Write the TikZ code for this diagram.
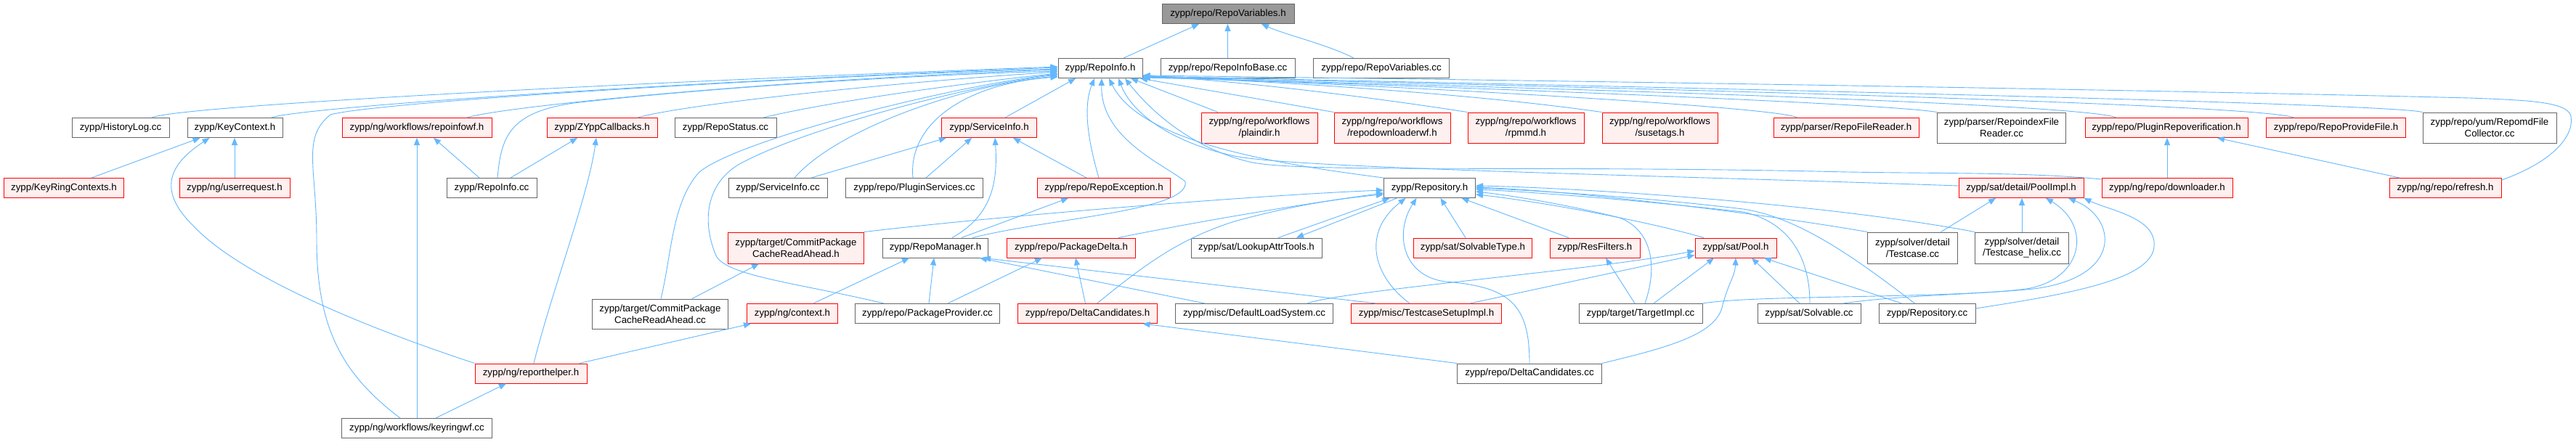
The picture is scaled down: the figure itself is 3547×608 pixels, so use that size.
\documentclass[tikz,border=0pt]{standalone}
\usepackage{fontspec}
\setmainfont{Liberation Sans}
\usetikzlibrary{arrows.meta}
\definecolor{edgeblue}{HTML}{63B8FF}
\definecolor{borderg}{HTML}{666666}
\definecolor{pinkfill}{HTML}{FFF0F0}
\definecolor{rootfill}{HTML}{999999}
\tikzset{
  nb/.style={draw=borderg, fill=white, line width=1pt, inner sep=0pt, minimum height=27pt, align=center, font=\fontsize{13.3}{15.6}\selectfont},
  nr/.style={nb, draw=red, fill=pinkfill},
  nroot/.style={nb, fill=rootfill},
  e/.style={draw=edgeblue, line width=0.9pt, -{Triangle[length=10pt,width=8pt]}},
}
\begin{document}
\begin{tikzpicture}[x=1pt,y=-1pt]
\fill[white] (0,0) rectangle (3547,608);
\useasboundingbox (0,0) rectangle (3547,608);
% row 1-2
\node[nroot, minimum width=182pt] (RV) at (1691,19) {zypp/repo/RepoVariables.h};
\node[nb, minimum width=116pt] (RI) at (1515,94) {zypp/RepoInfo.h};
\node[nb, minimum width=185pt] (RIB) at (1690.5,94) {zypp/repo/RepoInfoBase.cc};
\node[nb, minimum width=187pt] (RVcc) at (1902,94) {zypp/repo/RepoVariables.cc};
% row 3
\node[nb, minimum width=134pt] (HL) at (166,176) {zypp/HistoryLog.cc};
\node[nb, minimum width=131pt] (KC) at (323.5,176) {zypp/KeyContext.h};
\node[nr, minimum width=206pt] (RIWF) at (574,176) {zypp/ng/workflows/repoinfowf.h};
\node[nr, minimum width=152pt] (ZYC) at (829,176) {zypp/ZYppCallbacks.h};
\node[nb, minimum width=140pt] (RS) at (999,176) {zypp/RepoStatus.cc};
\node[nr, minimum width=131pt] (SIh) at (1362,176) {zypp/ServiceInfo.h};
\node[nr, minimum width=160pt, minimum height=42pt] (PD) at (1734,176) {zypp/ng/repo/workflows\\/plaindir.h};
\node[nr, minimum width=160pt, minimum height=42pt] (RDWF) at (1917,176) {zypp/ng/repo/workflows\\/repodownloaderwf.h};
\node[nr, minimum width=160pt, minimum height=42pt] (RPMMD) at (2101,176) {zypp/ng/repo/workflows\\/rpmmd.h};
\node[nr, minimum width=159pt, minimum height=42pt] (SUSE) at (2285.5,176) {zypp/ng/repo/workflows\\/susetags.h};
\node[nr, minimum width=200pt] (RFR) at (2542,176) {zypp/parser/RepoFileReader.h};
\node[nb, minimum width=177pt, minimum height=42pt] (RIFR) at (2756,176) {zypp/parser/RepoindexFile\\Reader.cc};
\node[nr, minimum width=224pt] (PRV) at (2983,176) {zypp/repo/PluginRepoverification.h};
\node[nr, minimum width=192pt] (RPF) at (3216.6,176) {zypp/repo/RepoProvideFile.h};
\node[nb, minimum width=184pt, minimum height=42pt] (RMFC) at (3428,176) {zypp/repo/yum/RepomdFile\\Collector.cc};
% row 4
\node[nr, minimum width=165pt] (KRC) at (88,259) {zypp/KeyRingContexts.h};
\node[nr, minimum width=152pt] (UR) at (323,259) {zypp/ng/userrequest.h};
\node[nb, minimum width=124pt] (RIcc) at (677,259) {zypp/RepoInfo.cc};
\node[nb, minimum width=136pt] (SIcc) at (1071,259) {zypp/ServiceInfo.cc};
\node[nb, minimum width=189pt] (PS) at (1259,259) {zypp/repo/PluginServices.cc};
\node[nr, minimum width=183pt] (RE) at (1520,259) {zypp/repo/RepoException.h};
\node[nb, minimum width=126pt] (RH) at (1968.5,259) {zypp/Repository.h};
\node[nr, minimum width=172pt] (PI) at (2783,259) {zypp/sat/detail/PoolImpl.h};
\node[nr, minimum width=180pt] (DL) at (2984,259) {zypp/ng/repo/downloader.h};
\node[nr, minimum width=154pt] (RFsh) at (3367,259) {zypp/ng/repo/refresh.h};
% row 5
\node[nr, minimum width=187pt, minimum height=43pt] (CPh) at (1096,341.5) {zypp/target/CommitPackage\\CacheReadAhead.h};
\node[nb, minimum width=145pt] (RM) at (1288,341.5) {zypp/RepoManager.h};
\node[nr, minimum width=177pt] (PDl) at (1475,341.5) {zypp/repo/PackageDelta.h};
\node[nb, minimum width=180pt] (LAT) at (1730,341.5) {zypp/sat/LookupAttrTools.h};
\node[nr, minimum width=163pt] (ST) at (2028,341.5) {zypp/sat/SolvableType.h};
\node[nr, minimum width=124pt] (RFil) at (2196,341.5) {zypp/ResFilters.h};
\node[nr, minimum width=112pt] (Pool) at (2390,341.5) {zypp/sat/Pool.h};
\node[nb, minimum width=124pt, minimum height=43pt] (TC) at (2633.5,341.5) {zypp/solver/detail\\/Testcase.cc};
\node[nb, minimum width=129pt, minimum height=43pt] (TCH) at (2784,341.5) {zypp/solver/detail\\/Testcase\_helix.cc};
% row 6
\node[nb, minimum width=187pt, minimum height=41pt] (CPcc) at (909,432.5) {zypp/target/CommitPackage\\CacheReadAhead.cc};
\node[nr, minimum width=125pt] (CTX) at (1091,432) {zypp/ng/context.h};
\node[nb, minimum width=199pt] (PP) at (1277,432) {zypp/repo/PackageProvider.cc};
\node[nr, minimum width=192pt] (DCh) at (1497.5,432) {zypp/repo/DeltaCandidates.h};
\node[nb, minimum width=217pt] (DLS) at (1727,432) {zypp/misc/DefaultLoadSystem.cc};
\node[nr, minimum width=207pt] (TSI) at (1964,432) {zypp/misc/TestcaseSetupImpl.h};
\node[nb, minimum width=170pt] (TI) at (2259,432) {zypp/target/TargetImpl.cc};
\node[nb, minimum width=142pt] (SV) at (2491,432) {zypp/sat/Solvable.cc};
\node[nb, minimum width=133pt] (RC) at (2653.5,432) {zypp/Repository.cc};
% row 7-8
\node[nr, minimum width=154pt] (RHp) at (731,514.5) {zypp/ng/reporthelper.h};
\node[nb, minimum width=199pt] (DCcc) at (2106,514.5) {zypp/repo/DeltaCandidates.cc};
\node[nb, minimum width=207pt] (KRWF) at (574,590) {zypp/ng/workflows/keyringwf.cc};

% edges to RepoVariables.h
\draw[e] ([xshift=32pt]RI.north) -- ([xshift=-40pt]RV.south);
\draw[e] (RIB.north) -- (RIB.north |- RV.south);
\draw[e] ([xshift=-38pt]RVcc.north) .. controls (1830,62) and (1770,48) .. ([xshift=46pt]RV.south);

% edges to RepoInfo.h from the left
\draw[e] ([xshift=43pt]HL.north) .. controls (250,145) and (900,112) .. ([yshift=2pt]RI.west);
\draw[e] ([xshift=50pt]KC.north) .. controls (420,147) and (950,112) .. ([yshift=1pt]RI.west);
\draw[e] ([xshift=-23pt]KRWF.north) .. controls (470,515) and (436,450) .. (436,330) .. controls (436,230) and (415,190) .. (455,158) .. controls (520,140) and (1100,105) .. ([yshift=-1pt]RI.west);
\draw[e] ([xshift=69pt]RIWF.north) .. controls (700,145) and (1100,108) .. ([yshift=-2pt]RI.west);
\draw[e] ([xshift=8pt]RIcc.north) .. controls (690,190) and (700,155) .. (790,142) .. controls (1000,118) and (1300,102) .. ([yshift=-4pt]RI.west);
\draw[e] ([xshift=49pt]ZYC.north) .. controls (950,142) and (1250,112) .. ([yshift=-5pt]RI.west);
\draw[e] ([xshift=52pt]RS.north) .. controls (1150,138) and (1350,112) .. ([yshift=-7pt]RI.west);
\draw[e] ([xshift=1pt]CPcc.north) .. controls (925,350) and (925,280) .. (962,238) .. controls (1010,195) and (1300,120) .. ([yshift=-8pt]RI.west);
\draw[e] ([xshift=-60pt]PP.north) .. controls (1100,390) and (995,380) .. (985,350) .. controls (965,300) and (975,250) .. (1020,225) .. controls (1120,172) and (1350,115) .. ([yshift=-9pt]RI.west);
\draw[e] ([xshift=23pt]SIcc.north) .. controls (1150,180) and (1320,118) .. ([yshift=-11pt]RI.west);
\draw[e] ([xshift=-2pt]PS.north) .. controls (1250,170) and (1330,115) .. ([yshift=-12pt]RI.west);
% edges to RepoInfo.h from below
\draw[e] ([xshift=22pt]SIh.north) -- ([xshift=-34pt]RI.south);
\draw[e] ([xshift=-7pt]RE.north) .. controls (1500,200) and (1490,150) .. ([xshift=-8pt]RI.south);
\draw[e] ([xshift=51pt]RM.north) .. controls (1450,300) and (1640,290) .. (1632,250) .. controls (1600,225) and (1515,190) .. ([xshift=2pt]RI.south);
\draw[e] (RH.north west) .. controls (1750,225) and (1570,195) .. ([xshift=12pt]RI.south);
\draw[e] ([yshift=3pt]PI.west) .. controls (2300,242) and (1780,232) .. (1700,215) .. controls (1620,198) and (1560,160) .. ([xshift=25pt]RI.south);
\draw[e] ([yshift=12pt]DL.west) .. controls (2780,236) and (2650,240) .. (2500,236) .. controls (2100,228) and (1800,238) .. (1725,224) .. controls (1650,208) and (1590,160) .. ([xshift=34pt]RI.south);
\draw[e] ([xshift=-57pt]PD.north) -- ([xshift=42pt]RI.south);
\draw[e] (RDWF.north west) -- ([xshift=55pt]RI.south);
% edges to RepoInfo.h from the right
\draw[e] (RPMMD.north west) .. controls (1850,128) and (1680,110) .. ([yshift=-10pt]RI.east);
\draw[e] (SUSE.north west) .. controls (2000,125) and (1700,110) .. ([yshift=-11pt]RI.east);
\draw[e] ([xshift=-67pt]RFR.north) .. controls (2440,145) and (1800,112) .. ([yshift=-12pt]RI.east);
\draw[e] (RIFR.north west) .. controls (2580,140) and (1800,113) .. ([yshift=-12pt]RI.east);
\draw[e] ([xshift=-69pt]PRV.north) .. controls (2860,140) and (1900,115) .. ([yshift=-13pt]RI.east);
\draw[e] ([xshift=-58pt]RPF.north) .. controls (3100,140) and (1900,113) .. ([yshift=-12pt]RI.east);
\draw[e] (RMFC.north west) .. controls (3280,140) and (1900,112) .. ([yshift=-11pt]RI.east);
\draw[e] ([yshift=11pt]RFsh.east) .. controls (3510,225) and (3545,190) .. (3540,160) .. controls (3535,140) and (3480,138) .. (3400,135) .. controls (2800,120) and (1900,108) .. ([yshift=-10pt]RI.east);

% KeyContext.h, repoinfowf.h, ZYppCallbacks.h, reporthelper.h
\draw[e] ([xshift=38pt]KRC.north) -- ([xshift=-48pt]KC.south);
\draw[e] (UR.north) -- (UR.north |- KC.south);
\draw[e] (RHp.north west) .. controls (500,450) and (330,380) .. (265,310) .. controls (215,260) and (235,225) .. ([xshift=-35pt]KC.south);
\draw[e] (KRWF.north) -- (KRWF.north |- RIWF.south);
\draw[e] ([xshift=-17pt]RIcc.north) -- ([xshift=23pt]RIWF.south);
\draw[e] ([xshift=26pt]RIcc.north) -- ([xshift=-34pt]ZYC.south);
\draw[e] ([xshift=4pt]RHp.north) .. controls (760,400) and (810,270) .. ([xshift=-8pt]ZYC.south);
\draw[e] ([xshift=26pt]KRWF.north) -- ([xshift=-34pt]RHp.south);
\draw[e] ([xshift=67pt]RHp.north) -- ([xshift=-57pt]CTX.south);
\draw[e] ([xshift=29pt]CTX.north) -- ([xshift=-36pt]RM.south);

% ServiceInfo.h, RepoException.h
\draw[e] ([xshift=46pt]SIcc.north) -- ([xshift=-59pt]SIh.south);
\draw[e] ([xshift=16pt]PS.north) -- ([xshift=-24pt]SIh.south);
\draw[e] ([xshift=23pt]RM.north) .. controls (1360,300) and (1375,260) .. ([xshift=8pt]SIh.south);
\draw[e] ([xshift=-24pt]RE.north) -- ([xshift=33pt]SIh.south);
\draw[e] ([xshift=36pt]RM.north) -- ([xshift=-49pt]RE.south);

% CommitPackage, RepoManager, PackageDelta
\draw[e] ([xshift=44pt]CPcc.north) -- ([xshift=-51pt]CPh.south);
\draw[e] (CPh.north east) .. controls (1400,295) and (1750,268) .. ([yshift=-3pt]RH.west);
\draw[e] ([xshift=2pt]PP.north) -- ([xshift=-2pt]RM.south);
\draw[e] ([xshift=28pt]PP.north) -- ([xshift=-40pt]PDl.south);
\draw[e] ([xshift=-3pt]DCh.north) -- ([xshift=6pt]PDl.south);
\draw[e] ([xshift=13pt]DCh.north) .. controls (1570,370) and (1620,330) .. (1700,305) .. controls (1790,280) and (1860,272) .. ([yshift=-9pt]RH.west);
\draw[e] ([xshift=65pt]PDl.north) .. controls (1650,305) and (1800,280) .. ([yshift=-7pt]RH.west);
\draw[e] (DCcc.north west) -- ([xshift=76pt]DCh.south);
\draw[e] (DCcc.north east) .. controls (2300,478) and (2365,460) .. (2372,420) .. controls (2380,390) and (2389,380) .. (Pool.south);
\draw[e] (DCcc.north) .. controls (2106,420) and (2080,395) .. (1990,388) .. controls (1930,380) and (1920,320) .. ([xshift=-18pt]RH.south);
\draw[e] ([xshift=-68pt]DLS.north) -- ([xshift=61pt]RM.south);
\draw[e] ([xshift=-69pt]TSI.north) -- ([xshift=66pt]RM.south);
\draw[e] ([xshift=73pt]DLS.north) .. controls (1850,400) and (2200,372) .. ([yshift=-4pt]Pool.west);
\draw[e] ([xshift=60pt]TSI.north) -- ([yshift=-10pt]Pool.west);
\draw[e] ([xshift=-23pt]TSI.north) .. controls (1890,380) and (1875,320) .. ([xshift=-33pt]RH.south);

% Repository.h
\draw[e] ([xshift=30pt]LAT.north) -- ([xshift=-55pt]RH.south);
\draw[e] ([xshift=-45pt]RH.south) -- ([xshift=55pt]LAT.north);
\draw[e] ([xshift=-10pt]ST.north) -- ([xshift=15pt]RH.south);
\draw[e] ([xshift=-36pt]RFil.north) -- ([xshift=44pt]RH.south);
\draw[e] ([xshift=-44pt]Pool.north) .. controls (2250,300) and (2100,275) .. ([yshift=-9pt]RH.east);
\draw[e] ([xshift=6pt]TI.north) .. controls (2285,360) and (2270,315) .. (2230,300) .. controls (2150,280) and (2070,268) .. ([yshift=-5pt]RH.east);
\draw[e] ([xshift=1pt]SV.north) .. controls (2492,350) and (2460,305) .. (2400,292) .. controls (2250,275) and (2100,264) .. ([yshift=-2pt]RH.east);
\draw[e] ([xshift=-17pt]RC.north) .. controls (2560,360) and (2480,300) .. (2400,288) .. controls (2250,270) and (2100,262) .. (RH.east);
\draw[e] (TC.north west) .. controls (2400,290) and (2150,262) .. ([yshift=1pt]RH.east);
\draw[e] (TCH.north west) .. controls (2500,278) and (2150,258) .. ([yshift=3pt]RH.east);

% Pool.h, ResFilters.h
\draw[e] ([xshift=-8pt]TI.north) -- ([xshift=15pt]RFil.south);
\draw[e] ([xshift=18pt]TI.north) -- ([xshift=-30pt]Pool.south);
\draw[e] ([xshift=-13pt]SV.north) -- ([xshift=22pt]Pool.south);
\draw[e] ([xshift=-35pt]RC.north) -- ([xshift=39pt]Pool.south);

% PoolImpl.h
\draw[e] ([xshift=39pt]TC.north) -- ([xshift=-35pt]PI.south);
\draw[e] (TCH.north) -- (TCH.north |- PI.south);
\draw[e] (TI.north east) .. controls (2420,406) and (2660,412) .. (2800,398) .. controls (2925,382) and (2915,300) .. ([xshift=65pt]PI.south);
\draw[e] ([xshift=47pt]SV.north) .. controls (2620,406) and (2730,406) .. (2790,398) .. controls (2870,385) and (2880,310) .. ([xshift=34pt]PI.south);
\draw[e] ([yshift=7pt]RC.east) .. controls (2850,405) and (2962,385) .. (2966,340) .. controls (2970,300) and (2905,290) .. (PI.south east);

% PluginRepoverification.h
\draw[e] (DL.north) -- (DL.north |- PRV.south);
\draw[e] ([xshift=-63pt]RFsh.north) -- ([xshift=70pt]PRV.south);
\end{tikzpicture}
\end{document}
